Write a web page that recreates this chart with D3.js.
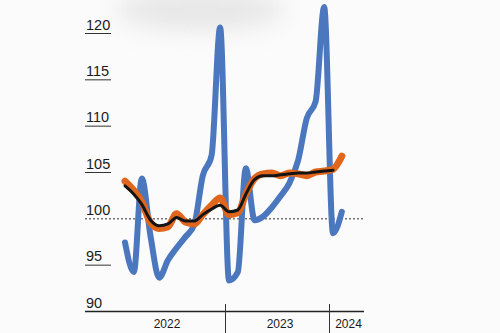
<!DOCTYPE html>
<html>
<head>
<meta charset="utf-8">
<script src="https://cdn.jsdelivr.net/npm/d3@7"></script>
<style>
  html, body { margin: 0; padding: 0; background: #fbfbfb; }
  svg { display: block; }
</style>
</head>
<body>
<svg id="chart" width="500" height="333"></svg>
<script>
// Monthly index values, Jan 2022 onwards
const months = d3.range(26).map(i => new Date(2022, i, 15));

const monthlyIndex = [
  97.4, 94.2, 104.3, 98.0, 93.6, 95.5, 96.8, 98.0, 99.3, 104.6, 106.8, 120.6,
  93.3, 94.2, 105.4, 99.8, 100.2, 101.2, 102.4, 103.8, 106.3, 110.8, 112.6, 122.8,
  98.4, 100.7
];

const rollingIndex = [
  104.0, 103.0, 101.8, 99.5, 98.9, 99.1, 100.5, 99.6, 99.4, 100.4, 101.4, 102.2,
  100.4, 100.6, 102.6, 104.3, 104.8, 104.9, 104.6, 104.9, 104.8, 104.6, 105.0, 105.1,
  105.3, 106.7
];

const trendIndex = [
  103.5, 102.6, 101.5, 99.8, 99.2, 99.4, 100.1, 99.7, 99.7, 100.4, 101.0, 101.4,
  100.7, 100.9, 102.6, 104.2, 104.6, 104.6, 104.7, 104.8, 104.9, 104.9, 105.0, 105.1,
  105.2
];

const yTicks = [90, 95, 100, 105, 110, 115, 120];
const yearLabels = ["2022", "2023", "2024"];

const svg = d3.select("#chart");

const x = d3.scaleTime()
  .domain([new Date(2022, 0, 1), new Date(2024, 0, 1)])
  .range([121, 329]);
const y = d3.scaleLinear().domain([90, 120]).range([311, 33]);

const left = 85, right = 364;

// soft grey smudge near the top edge
const defs = svg.append("defs");
defs.append("filter").attr("id", "smudge")
  .attr("x", "-60%").attr("y", "-150%").attr("width", "220%").attr("height", "400%")
  .append("feGaussianBlur").attr("stdDeviation", 12);
svg.append("ellipse")
  .attr("cx", 200).attr("cy", 10).attr("rx", 85).attr("ry", 20)
  .attr("fill", "#d2d2d2").attr("opacity", 0.5)
  .attr("filter", "url(#smudge)");

// y-axis: value labels with short underlines
const labelFont = "'Liberation Sans Narrow', 'Arial Narrow', 'Liberation Sans', sans-serif";
const yAxis = svg.append("g");
yTicks.forEach(v => {
  if (v !== 90 && v !== 100) {
    yAxis.append("line")
      .attr("x1", left).attr("x2", 111)
      .attr("y1", y(v) + 0.5).attr("y2", y(v) + 0.5)
      .attr("stroke", "#333").attr("stroke-width", 1);
  }
  yAxis.append("text")
    .attr("x", 86).attr("y", y(v) - 3.5)
    .attr("font-family", labelFont)
    .attr("font-size", 14.5)
    .attr("fill", "#1a1a1a")
    .text(v);
});

// reference line at 100
svg.append("line")
  .attr("x1", left).attr("x2", right)
  .attr("y1", y(100) + 0.5).attr("y2", y(100) + 0.5)
  .attr("stroke", "#333").attr("stroke-width", 1)
  .attr("stroke-dasharray", "2,2");

// x-axis baseline and year dividers
svg.append("line")
  .attr("x1", left).attr("x2", right)
  .attr("y1", y(90) + 0.5).attr("y2", y(90) + 0.5)
  .attr("stroke", "#222").attr("stroke-width", 1.3);

const yearStarts = [new Date(2023, 0, 1), new Date(2024, 0, 1)];
svg.selectAll("line.div").data(yearStarts).enter().append("line")
  .attr("x1", d => Math.round(x(d)) + 0.5).attr("x2", d => Math.round(x(d)) + 0.5)
  .attr("y1", 304).attr("y2", 333)
  .attr("stroke", "#333").attr("stroke-width", 1);

const yearCenters = [
  (x(new Date(2022, 0, 1)) + x(new Date(2023, 0, 1))) / 2 - 6,
  (x(new Date(2023, 0, 1)) + x(new Date(2024, 0, 1))) / 2 + 3,
  (x(new Date(2024, 0, 1)) + right) / 2 + 2
];
svg.selectAll("text.year").data(yearLabels).enter().append("text")
  .attr("x", (d, i) => yearCenters[i])
  .attr("y", 328)
  .attr("text-anchor", "middle")
  .attr("font-family", "'Liberation Sans', Arial, sans-serif")
  .attr("font-size", 12)
  .attr("fill", "#1a1a1a")
  .text(d => d);

// series
const line = d3.line()
  .x((d, i) => x(months[i]))
  .y(d => y(d))
  .curve(d3.curveMonotoneX);

svg.append("path").datum(monthlyIndex)
  .attr("d", line).attr("fill", "none")
  .attr("stroke", "#4a77bd").attr("stroke-width", 6)
  .attr("stroke-linecap", "round").attr("stroke-linejoin", "round");

svg.append("path").datum(rollingIndex)
  .attr("d", line).attr("fill", "none")
  .attr("stroke", "#e1661d").attr("stroke-width", 7)
  .attr("stroke-linecap", "round").attr("stroke-linejoin", "round");

svg.append("path").datum(trendIndex)
  .attr("d", line).attr("fill", "none")
  .attr("stroke", "#141414").attr("stroke-width", 3)
  .attr("stroke-linecap", "round").attr("stroke-linejoin", "round");
</script>
</body>
</html>
